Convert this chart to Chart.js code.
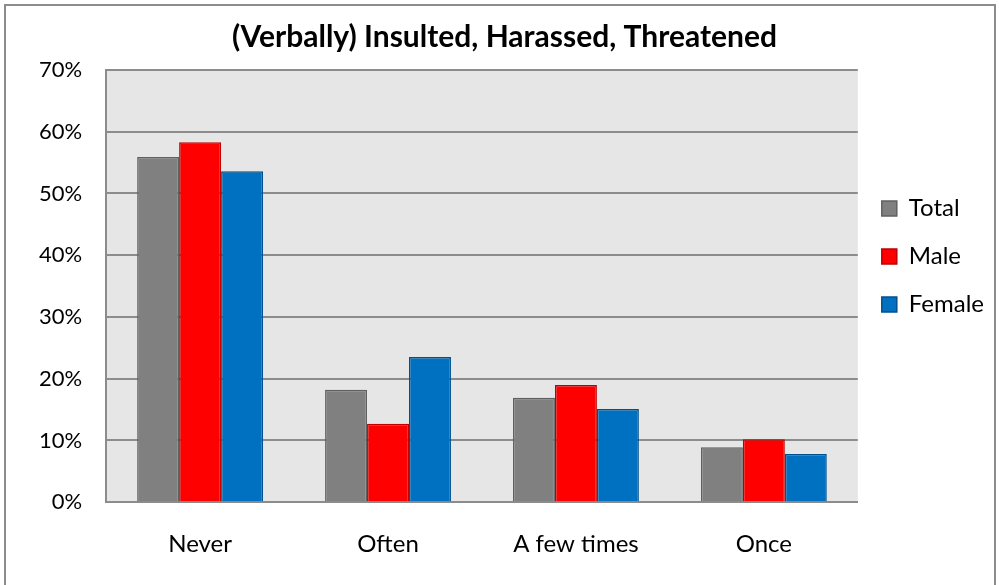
<!DOCTYPE html>
<html>
<head>
<meta charset="utf-8">
<script src="https://cdn.jsdelivr.net/npm/chart.js@4/dist/chart.umd.min.js"></script>
<style>
  body { margin: 0; background: #fff; }
  #wrap { width: 999px; height: 585px; }
</style>
</head>
<body>
<div id="wrap"><canvas id="chart" width="999" height="585"></canvas></div>
<script>
'use strict';

// Chart data
let categories = ['Never', 'Often', 'A few times', 'Once'];
let totalValues = [55.9, 18.2, 16.9, 8.9];
let maleValues = [58.3, 12.7, 19.0, 10.2];
let femaleValues = [53.6, 23.5, 15.1, 7.8];
let yTicks = [0, 10, 20, 30, 40, 50, 60, 70];

let fontName = 'Lato, "Open Sans", sans-serif';

// Grey plot area plus the thin frame around the whole picture
let backgroundPlugin = {
  id: 'backgroundPlugin',
  beforeDraw(chart) {
    let ctx = chart.ctx;
    let area = chart.chartArea;
    ctx.save();
    ctx.fillStyle = '#fff';
    ctx.fillRect(0, 0, chart.width, chart.height);
    ctx.fillStyle = '#e6e6e6';
    ctx.fillRect(area.left, area.top, area.right - area.left, area.bottom - area.top);
    ctx.restore();
  },
  afterDraw(chart) {
    let ctx = chart.ctx;
    ctx.save();
    ctx.strokeStyle = '#8c8c8c';
    ctx.lineWidth = 2;
    ctx.strokeRect(5, 5, chart.width - 9, chart.height - 4);
    ctx.restore();
  }
};

new Chart(document.getElementById('chart'), {
  type: 'bar',
  data: {
    labels: categories,
    datasets: [
      { label: 'Total', data: totalValues, backgroundColor: '#808080', borderColor: '#606060', borderWidth: 1.5 },
      { label: 'Male', data: maleValues, backgroundColor: '#ff0000', borderColor: '#c00000', borderWidth: 1.5 },
      { label: 'Female', data: femaleValues, backgroundColor: '#0070c0', borderColor: '#00508f', borderWidth: 1.5 }
    ]
  },
  options: {
    responsive: false,
    animation: false,
    layout: { padding: { left: 15, right: 5, top: 19, bottom: 6 } },
    datasets: { bar: { categoryPercentage: 0.67, barPercentage: 1 } },
    plugins: {
      title: {
        display: true,
        text: '(Verbally) Insulted, Harassed, Threatened',
        color: '#000',
        font: { family: fontName, size: 30, weight: 'bold' },
        padding: { top: 0, bottom: 15 }
      },
      legend: {
        position: 'right',
        align: 'start',
        title: { display: true, text: '', padding: { top: 0, bottom: 139 } },
        labels: {
          color: '#000',
          font: { family: fontName, size: 24 },
          boxWidth: 15,
          boxHeight: 15,
          padding: 24
        }
      },
      tooltip: { enabled: false }
    },
    scales: {
      x: {
        grid: { display: false },
        border: { color: '#8c8c8c', width: 2 },
        ticks: { color: '#000', font: { family: fontName, size: 24 }, padding: 20 }
      },
      y: {
        min: 0,
        max: 70,
        afterBuildTicks(axis) {
          axis.ticks = yTicks.map(v => ({ value: v }));
        },
        grid: { color: '#8c8c8c', lineWidth: 2, drawTicks: false },
        border: { color: '#8c8c8c', width: 2 },
        ticks: {
          color: '#000',
          font: { family: fontName, size: 22 },
          padding: 24,
          callback: v => v + '%'
        }
      }
    }
  },
  plugins: [backgroundPlugin]
});
</script>
</body>
</html>
